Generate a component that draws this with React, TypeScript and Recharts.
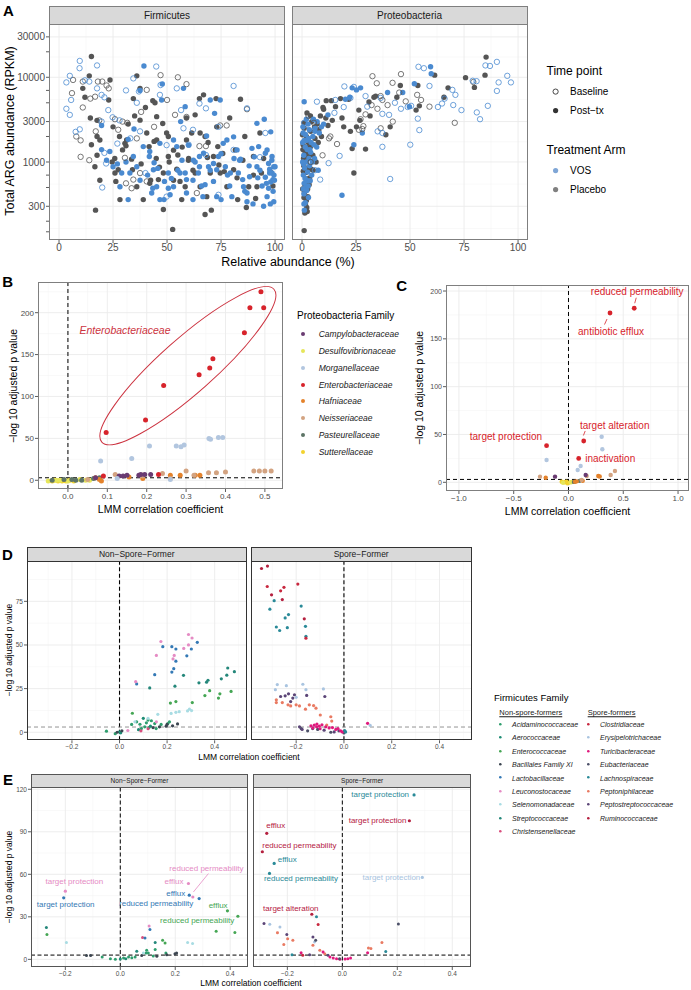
import React from "react"
import {
    ScatterChart,
    Scatter,
    XAxis,
    YAxis,
    CartesianGrid,
    ReferenceLine,
    ReferenceArea,
} from "recharts"

type Pt = [number, number]
type FPt = [string, number, number]
type Note = [string, number, number, string]

const FONT = '"Liberation Sans", Arial, Helvetica, sans-serif'

// ---------- A: total ARG abundance vs relative abundance ----------
const firmVosBase: Pt[] = [
    [9.6, 15600], [9.5, 12800], [5, 10400], [3.4, 8700], [17.6, 13800], [14, 8900], [5.6, 5400], [3.4, 4250],
    [5, 3600], [7.7, 2270], [9.6, 2430], [19.7, 3000], [22.8, 4100], [24.8, 3370], [19.7, 6200], [17.6, 7400],
    [21, 5800], [21, 1280], [21.8, 960], [20, 500], [34.4, 9700], [31, 7000], [36, 5000], [37, 6800], [45, 13400],
    [47, 8100], [46.7, 6200], [54.5, 7400], [56.5, 4100], [65, 4900], [68, 4300], [80.8, 7900], [87, 4300],
    [95.5, 2200], [37.5, 2300], [49.8, 1580], [57.6, 2500], [62, 2400], [68, 1210], [73.8, 2600], [80.8, 1390],
    [27, 1650], [40, 740], [49.8, 390], [73.8, 410], [93, 1140], [12, 9200], [28, 3100], [33, 1900], [60, 1600],
]
const firmPlaBase: Pt[] = [
    [6.5, 9300], [11, 8900], [18, 8900], [20, 8900], [22, 8000], [23, 7400], [16.7, 5900], [11, 4400], [10, 1800],
    [10, 1150], [14, 1050], [17, 2300], [18.6, 3100], [25.9, 3200], [27.4, 2400], [29.4, 3000], [31.6, 2900],
    [30.5, 1120], [36, 1900], [38, 3900], [40.6, 7100], [47, 10600], [55, 10000], [59, 8300], [50, 5400],
    [53.7, 3600], [59, 3400], [65, 1540], [68, 1540], [74.6, 2700], [77.6, 2700], [87, 4200], [37.5, 740],
    [34.4, 620], [40.6, 590], [33.6, 490], [63.8, 430], [31, 560], [6, 6500], [14.5, 5600], [44, 2600], [8, 2000],
]
const firmVosPost: Pt[] = [
    [39.3, 13600], [47.8, 8350], [47.5, 5400], [57.6, 7400], [58.4, 4500], [37.5, 7000], [34.7, 2450], [19.7, 2700],
    [19.7, 1400], [23.5, 1330], [32, 1850], [31, 1000], [32, 360], [37.5, 610], [42, 1330], [43.4, 490], [45.7, 840],
    [46.7, 1660], [48.8, 590], [50.6, 490], [51.4, 410], [53, 1820], [56.3, 3000], [56.9, 1050], [58.4, 740],
    [60, 1580], [62, 360], [64.5, 740], [66, 520], [67.6, 540], [68.3, 2030], [70, 5400], [72, 3750], [73, 390],
    [74.6, 5400], [76, 1660], [77, 880], [79, 520], [80.8, 1980], [82.4, 1390], [83, 740], [84, 1080], [86, 450],
    [87, 340], [89.3, 1450], [90.4, 1150], [91.6, 2860], [93, 800], [94, 520], [95, 3200], [95.5, 660], [96.3, 1390],
    [97, 960], [98, 580], [98.6, 740], [99.1, 450], [99.4, 880], [99.4, 340], [98, 2270], [97, 490], [65, 880],
    [71.5, 960], [29, 740], [59, 620], [99, 620], [98.5, 1050], [97.5, 820], [99.5, 700], [96, 560], [92, 650],
    [88, 900], [85, 620], [81, 1100], [78, 700], [75, 1250], [70, 800], [63, 1000], [55, 800], [52, 640], [44, 980],
    [41, 700], [36, 880], [27, 950],
    [39, 1520], [41.8, 1160], [43.7, 810], [45.2, 510], [48.6, 360], [50.6, 740], [54.5, 1520], [56, 740],
    [59, 430], [62, 610], [65, 1160], [66.6, 390], [69.2, 880], [71.5, 590], [73.8, 1160], [75, 360], [77.7, 1820],
    [80, 390], [83.6, 1050], [85.4, 510], [88.2, 670], [89.8, 320], [91.6, 880], [92.4, 1520], [95.5, 1270],
    [96.3, 390], [97.5, 740], [98.6, 1160], [99.7, 610], [100, 880], [97.8, 320], [94.7, 300], [87, 430],
    [79.3, 740], [73, 810], [66.9, 1270], [62.2, 1050], [53, 510], [46.7, 360], [42.9, 430], [34.4, 1160],
    [32.8, 740], [28.2, 510], [25, 880], [22, 1050],
]
const firmPlaPost: Pt[] = [
    [15, 17600], [14, 10400], [11, 7400], [12, 5800], [14.5, 3300], [17.6, 3100], [17.6, 2000], [15, 1600],
    [17.6, 1200], [18.9, 610], [16.9, 270], [23.6, 9300], [23, 5400], [25, 2600], [25.8, 1100], [24.6, 1000],
    [27.4, 810], [26.3, 590], [29.4, 1390], [32, 2800], [33.6, 1080], [36, 10400], [34.4, 5600], [37.5, 7400],
    [40, 4400], [40.6, 2200], [41.7, 1520], [43.4, 5300], [44.4, 5000], [44, 1750], [45, 1100], [46, 620],
    [48.3, 275], [46.5, 870], [48, 2850], [50.6, 2000], [52.6, 160], [53, 1380], [55, 1210], [54.5, 820], [56, 590],
    [58.4, 510], [59, 3300], [61.4, 2200], [63, 3600], [65, 5600], [66.9, 6200], [67.6, 2000], [68.7, 1130],
    [70, 740], [70.5, 270], [67.6, 240], [72.7, 5600], [73.5, 1520], [75.8, 1260], [76.5, 770], [79, 3300],
    [81.6, 1390], [82.4, 650], [84, 5500], [86, 2000], [86.7, 290], [90, 700], [91, 370], [93, 2200], [94.7, 1100],
    [97.8, 770], [99, 520], [38, 950], [42, 560], [31, 1550], [28, 2000], [35, 3500], [51, 1000], [57, 1500],
    [62, 800], [69, 1700], [74, 920], [60, 1100],
    [25.9, 740], [28.2, 360], [30.5, 1660], [34, 810], [36, 510], [39, 360], [42.4, 610], [45.2, 1820], [48.3, 740],
    [50.6, 1160], [53, 610], [56.8, 360], [59.9, 1050], [63, 740], [65.3, 510], [68.4, 390], [71.5, 1160],
    [74.6, 740], [77.7, 510], [80.8, 810], [82.7, 360], [85.1, 1050], [87.8, 510], [90, 1160], [91.6, 510],
    [93.7, 740], [73, 2600], [65.3, 2200], [59, 1820], [49.8, 2200], [45.2, 3430], [37.5, 3120], [31.3, 1820],
    [18.9, 1820], [16.6, 880],
]
const proVosBase: Pt[] = [
    [90.2, 15200], [87, 13600], [84.9, 13800], [53.9, 13300], [56.4, 12800], [95, 10400], [96.7, 8700], [90.2, 6900],
    [91, 8700], [80.8, 9000], [79, 9100], [69.6, 7100], [71, 6200], [59, 7900], [62.9, 4460], [64.8, 4900], [70, 4700],
    [73.8, 4100], [80.9, 3850], [82.4, 3200], [86, 4600], [54.3, 2380], [48.9, 4460], [50.5, 4600], [45.8, 4250],
    [37.2, 3700], [40.3, 3600], [35, 2300], [37.2, 2200], [37.2, 1510], [40.8, 630], [50.1, 1600], [30.2, 4500],
    [29.4, 6000], [36.4, 5700], [53.6, 3250], [24, 7700], [22.4, 5700], [19.6, 7800], [6.9, 5150], [17.4, 1180],
    [12.3, 970], [8.4, 620], [15.4, 5400], [19.3, 4450], [1, 2900], [2, 2400], [6, 800], [15, 3800], [43, 5000],
    [66, 5600],
]
const proPlaBase: Pt[] = [
    [32.6, 10300], [41.9, 8600], [45.8, 10900], [34.6, 8500], [79.3, 8800], [36.4, 6000], [34.9, 4250], [27.1, 3200],
    [28.4, 2650], [26.3, 2400], [36.4, 2500], [70.7, 2900], [59, 4500], [45, 6600], [53.3, 6200], [37.2, 5400],
    [29.4, 3650], [55.1, 5400], [39.6, 4700], [32.2, 4700], [27.9, 2450], [16.2, 1630], [13.1, 2000], [3, 3500],
    [5.5, 2900], [9.5, 1200], [12.5, 1900], [4, 1000], [48, 5200], [42, 3000],
]
const proVosPost: Pt[] = [
    [59.5, 13300], [59.8, 11000], [52, 8400], [27.1, 7500], [23.2, 7500], [25.2, 7100], [20.1, 5500], [27.9, 2200],
    [24, 1600], [18.5, 405], [49.7, 4500], [46.6, 6600], [39.6, 6600], [22.1, 5800], [0.5, 2200], [1, 1800],
    [1.5, 1500], [0.8, 1200], [2, 1000], [1.2, 850], [0.6, 700], [2.5, 600], [1.8, 500], [0.9, 420], [3, 380],
    [1.5, 330], [4, 1300], [3.5, 900], [5, 2000], [6, 2500], [4.5, 700], [0.4, 2600], [2.8, 2800], [7, 3000],
    [1, 560], [2.2, 460], [3.2, 1100], [0.7, 950], [5.5, 1600], [8, 2200], [2, 3200], [9, 2600], [1, 5150],
    [5.3, 3200], [6, 2300], [2.2, 1800], [3.6, 1400], [0.3, 1000], [1.4, 640], [0.6, 480], [2.6, 760], [4.8, 1000],
    [3, 1900], [12, 3600], [10, 2800],
    [0.3, 1700], [1.6, 2100], [2.4, 1400], [3.8, 600], [0.9, 320], [4.2, 1700], [5.8, 1100], [6.8, 1500],
    [1.1, 270], [2.9, 520], [7.5, 800], [3.4, 2400],
]
const proPlaPost: Pt[] = [
    [85.2, 17300], [84.7, 10600], [75.7, 9900], [79.8, 7600], [61.4, 10600], [53.6, 8000], [45.5, 8000], [67.6, 7500],
    [65.7, 5800], [52.8, 4100], [54.3, 4600], [43.9, 5800], [40.8, 2600], [38.8, 2100], [33.3, 5800], [34.1, 6000],
    [31, 5100], [26.3, 4100], [22.4, 2300], [29.4, 1420], [23.2, 1440], [24, 740], [18.5, 3300], [19.3, 2600],
    [21.6, 5500], [25.2, 2600], [31.5, 3500], [26.8, 3100], [11.2, 5300], [9.7, 4400], [13.6, 5300], [17.8, 5600],
    [1, 2500], [2, 2000], [0.5, 1600], [1.5, 1300], [3, 1700], [2.5, 1100], [0.8, 900], [1.8, 750], [3.5, 650],
    [1.2, 550], [2.6, 480], [0.9, 380], [1.6, 320], [2.2, 290], [2.4, 260], [4, 2300], [5, 1200], [3.8, 1500],
    [6, 1900], [7, 2800], [4.5, 3000], [8.5, 3500], [10, 4200], [11, 3300], [6.5, 1000], [2.8, 850], [1.1, 430],
    [12, 2700], [14, 3100], [1, 155], [0.4, 1400], [3.3, 540], [1.7, 1050], [0.6, 780], [2, 350], [4.2, 820],
    [7.5, 1700], [5.8, 2600], [9, 2000], [15.5, 4500],
    [0.2, 2100], [1.4, 1800], [2.1, 1500], [3.1, 1200], [0.7, 1100], [1.9, 630], [0.3, 480], [2.7, 390],
    [1.3, 250], [4.6, 1600], [5.2, 800], [7.8, 2400], [0.9, 2900], [3.9, 3500], [2.3, 3800],
]
const aXTicks = [0, 25, 50, 75, 100]
const aXMinor = [12.5, 37.5, 62.5, 87.5]
const aYLabels = [300, 1000, 3000, 10000, 30000]
const aYTickMarks = [150, 200, 300, 500, 700, 1000, 2000, 3000, 5000, 7000, 10000, 20000, 30000]
const aYMinor = [164, 548, 1732, 5477, 17320]

// ---------- B / C: Proteobacteria ----------
const proteoFamilies = [
    "Campylobacteraceae", "Desulfovibrionaceae", "Morganellaceae", "Enterobacteriaceae",
    "Hafniaceae", "Neisseriaceae", "Pasteurellaceae", "Sutterellaceae",
]
const bPoints: FPt[] = [
    ["Sutterellaceae", -0.04, -1], ["Sutterellaceae", -0.025, -1], ["Sutterellaceae", -0.015, -1],
    ["Sutterellaceae", -0.005, -1], ["Sutterellaceae", 0.005, 0], ["Sutterellaceae", 0.015, -1], ["Sutterellaceae", -0.035, 0],
    ["Desulfovibrionaceae", -0.05, -1], ["Desulfovibrionaceae", -0.03, 0], ["Desulfovibrionaceae", -0.02, 0],
    ["Desulfovibrionaceae", 0, -1], ["Desulfovibrionaceae", 0.045, 0], ["Desulfovibrionaceae", 0.055, 0], ["Desulfovibrionaceae", 0.03, 1],
    ["Pasteurellaceae", -0.04, 0], ["Pasteurellaceae", -0.01, 1], ["Pasteurellaceae", 0.01, 1], ["Pasteurellaceae", 0.02, 0],
    ["Pasteurellaceae", 0.035, 0], ["Pasteurellaceae", 0.065, 2], ["Pasteurellaceae", 0.08, 3],
    ["Hafniaceae", 0.07, 3], ["Hafniaceae", 0.08, 1], ["Hafniaceae", 0.085, -1], ["Hafniaceae", 0.155, 4],
    ["Hafniaceae", 0.19, 6], ["Hafniaceae", 0.19, 2], ["Hafniaceae", 0.26, 6], ["Hafniaceae", 0.285, 6],
    ["Hafniaceae", 0.323, 6], ["Hafniaceae", 0.335, 6],
    ["Neisseriaceae", 0.12, 7], ["Neisseriaceae", 0.24, 8], ["Neisseriaceae", 0.3, 11], ["Neisseriaceae", 0.32, 6],
    ["Neisseriaceae", 0.357, 9], ["Neisseriaceae", 0.377, 9], ["Neisseriaceae", 0.4, 10], ["Neisseriaceae", 0.472, 11],
    ["Neisseriaceae", 0.486, 11], ["Neisseriaceae", 0.5, 11], ["Neisseriaceae", 0.516, 11], ["Neisseriaceae", 0.26, 2],
    ["Neisseriaceae", 0.19, 5], ["Neisseriaceae", 0.05, 1],
    ["Campylobacteraceae", 0.13, 5], ["Campylobacteraceae", 0.14, 5], ["Campylobacteraceae", 0.15, 6],
    ["Campylobacteraceae", 0.18, 6], ["Campylobacteraceae", 0.195, 7], ["Campylobacteraceae", 0.21, 7],
    ["Campylobacteraceae", 0.185, 7], ["Campylobacteraceae", 0.07, 3],
    ["Morganellaceae", 0.083, 23], ["Morganellaceae", 0.162, 26], ["Morganellaceae", 0.207, 41], ["Morganellaceae", 0.275, 41],
    ["Morganellaceae", 0.287, 40], ["Morganellaceae", 0.295, 42], ["Morganellaceae", 0.358, 50], ["Morganellaceae", 0.362, 49],
    ["Morganellaceae", 0.382, 51], ["Morganellaceae", 0.393, 51], ["Morganellaceae", 0.125, 2], ["Morganellaceae", 0.26, 1],
    ["Enterobacteriaceae", 0.097, 57], ["Enterobacteriaceae", 0.197, 72], ["Enterobacteriaceae", 0.243, 113],
    ["Enterobacteriaceae", 0.333, 126], ["Enterobacteriaceae", 0.36, 134], ["Enterobacteriaceae", 0.368, 145],
    ["Enterobacteriaceae", 0.448, 176], ["Enterobacteriaceae", 0.462, 206], ["Enterobacteriaceae", 0.497, 206],
    ["Enterobacteriaceae", 0.49, 225], ["Enterobacteriaceae", 0.09, 5], ["Enterobacteriaceae", 0.23, 7],
]
const cPoints: FPt[] = [
    ["Sutterellaceae", -0.062, 0.6], ["Sutterellaceae", -0.035, 0], ["Sutterellaceae", -0.02, 0.6],
    ["Sutterellaceae", 0, -0.5], ["Sutterellaceae", 0.03, 0.3], ["Sutterellaceae", -0.01, -1],
    ["Desulfovibrionaceae", -0.05, -0.5], ["Desulfovibrionaceae", 0.02, 0],
    ["Pasteurellaceae", 0.1, 1.5], ["Pasteurellaceae", 0.05, 0.4],
    ["Hafniaceae", -0.208, 4.8], ["Hafniaceae", 0.272, 6.6], ["Hafniaceae", 0.285, 6], ["Hafniaceae", 0.075, 1],
    ["Hafniaceae", 0.06, 0.5], ["Hafniaceae", 0.13, 1.5],
    ["Neisseriaceae", -0.26, 5.9], ["Neisseriaceae", 0.424, 11.8], ["Neisseriaceae", 0.385, 7.6],
    ["Neisseriaceae", 0.166, 6.6], ["Neisseriaceae", 0.12, 2.5],
    ["Campylobacteraceae", -0.123, 5.9], ["Campylobacteraceae", 0.157, 7.6],
    ["Morganellaceae", 0.303, 47.7], ["Morganellaceae", 0.309, 34.5], ["Morganellaceae", 0.111, 17],
    ["Morganellaceae", 0.084, 12.9], ["Morganellaceae", -0.2, 23.3],
]
const cNotes: Note[] = [
    ["Enterobacteriaceae", 0.6, 182, "reduced permeability"],
    ["Enterobacteriaceae", 0.379, 177, "antibiotic efflux"],
    ["Enterobacteriaceae", 0.139, 43.2, "target alteration"],
    ["Enterobacteriaceae", 0.093, 25, "inactivation"],
    ["Enterobacteriaceae", -0.2, 38.3, "target protection"],
]
const bXTicks = [0, 0.1, 0.2, 0.3, 0.4, 0.5]
const bXMinor = [-0.05, 0.05, 0.15, 0.25, 0.35, 0.45]
const bYTicks = [0, 50, 100, 150, 200]
const bYMinor = [25, 75, 125, 175, 225]
const cXTicks = [-1, -0.5, 0, 0.5, 1]
const cXMinor = [-0.75, -0.25, 0.25, 0.75]
const cYMinor = [25, 75, 125, 175]

// ---------- D / E: Firmicutes ----------
const nonSporeFamilies = [
    "Acidaminococcaceae", "Aerococcaceae", "Enterococcaceae", "Bacillales Family XI", "Lactobacillaceae",
    "Leuconostocaceae", "Selenomonadaceae", "Streptococcaceae", "Christensenellaceae",
]
const sporeFamilies = [
    "Clostridiaceae", "Erysipelotrichaceae", "Turicibacteraceae", "Eubacteriaceae", "Lachnospiraceae",
    "Peptoniphilaceae", "Peptostreptococcaceae", "Ruminococcaceae",
]
const dNonSpore: FPt[] = [
    ["Acidaminococcaceae", -0.055, 0.6], ["Acidaminococcaceae", -0.018, -0.8], ["Acidaminococcaceae", 0.051, 4.5],
    ["Acidaminococcaceae", 0.072, 6], ["Acidaminococcaceae", 0.086, 4.6], ["Acidaminococcaceae", 0.106, 3.1],
    ["Acidaminococcaceae", 0.12, 7], ["Acidaminococcaceae", 0.113, 5.4], ["Acidaminococcaceae", 0.134, 6.6],
    ["Acidaminococcaceae", 0.148, 5], ["Acidaminococcaceae", 0.092, 2.1], ["Acidaminococcaceae", 0.124, 2.7],
    ["Acidaminococcaceae", 0.154, 2.1], ["Acidaminococcaceae", 0.175, 4.5], ["Acidaminococcaceae", 0.203, 5],
    ["Acidaminococcaceae", 0.21, 6],
    ["Aerococcaceae", 0, 0.2], ["Aerococcaceae", 0.005, -0.3], ["Aerococcaceae", 0.1, 8], ["Aerococcaceae", 0.13, 3.5],
    ["Aerococcaceae", 0.08, 1.5],
    ["Christensenellaceae", 0.12, 2], ["Christensenellaceae", 0.09, 0.8],
    ["Bacillales Family XI", 0.168, 3.1], ["Bacillales Family XI", 0.196, 3.5], ["Bacillales Family XI", 0.244, 4.8],
    ["Bacillales Family XI", 0.223, 3.7], ["Bacillales Family XI", 0.141, 2.7], ["Bacillales Family XI", -0.01, 0],
    ["Bacillales Family XI", 0.01, 0.8], ["Bacillales Family XI", 0.2, 4.5],
    ["Selenomonadaceae", 0.217, 10.8], ["Selenomonadaceae", 0.237, 11.4], ["Selenomonadaceae", 0.251, 11.8],
    ["Selenomonadaceae", 0.286, 12.2], ["Selenomonadaceae", 0.294, 13.2], ["Selenomonadaceae", 0.303, 12.4],
    ["Selenomonadaceae", 0.161, 10.3], ["Selenomonadaceae", 0.065, 6], ["Selenomonadaceae", 0.12, 8],
    ["Enterococcaceae", 0.214, 16.7], ["Enterococcaceae", 0.237, 17.6], ["Enterococcaceae", 0.306, 17],
    ["Enterococcaceae", 0.359, 21], ["Enterococcaceae", 0.379, 23.8], ["Enterococcaceae", 0.416, 19.6],
    ["Enterococcaceae", 0.422, 22], ["Enterococcaceae", 0.469, 23.4], ["Enterococcaceae", 0.054, 10.9],
    ["Streptococcaceae", 0.127, 25.4], ["Streptococcaceae", 0.233, 26.4], ["Streptococcaceae", 0.269, 32.6],
    ["Streptococcaceae", 0.334, 28.3], ["Streptococcaceae", 0.366, 28.7], ["Streptococcaceae", 0.372, 29.8],
    ["Streptococcaceae", 0.428, 30.6], ["Streptococcaceae", 0.455, 36.8], ["Streptococcaceae", 0.451, 32.7],
    ["Streptococcaceae", 0.483, 34.7],
    ["Lactobacillaceae", 0.072, 27.7], ["Lactobacillaceae", 0.182, 49], ["Lactobacillaceae", 0.148, 33],
    ["Lactobacillaceae", 0.22, 49], ["Lactobacillaceae", 0.237, 47.7], ["Lactobacillaceae", 0.228, 36.4],
    ["Lactobacillaceae", 0.22, 34.5], ["Lactobacillaceae", 0.237, 40.7], ["Lactobacillaceae", 0.283, 43.8],
    ["Lactobacillaceae", 0.302, 47.7], ["Lactobacillaceae", 0.327, 51.5],
    ["Leuconostocaceae", 0.068, 29], ["Leuconostocaceae", 0.174, 52], ["Leuconostocaceae", 0.155, 44],
    ["Leuconostocaceae", 0.29, 56], ["Leuconostocaceae", 0.305, 54], ["Leuconostocaceae", 0.27, 48],
    ["Leuconostocaceae", 0.29, 50], ["Leuconostocaceae", 0.155, 6], ["Leuconostocaceae", 0.035, 1],
    ["Leuconostocaceae", 0.23, 44], ["Leuconostocaceae", 0.225, 42],
]
const dSpore: FPt[] = [
    ["Eubacteriaceae", -0.179, 2.1], ["Eubacteriaceae", -0.152, 0.8], ["Eubacteriaceae", -0.11, 1.6],
    ["Eubacteriaceae", -0.055, 0], ["Eubacteriaceae", 0, -0.4],
    ["Peptostreptococcaceae", -0.265, 20.5], ["Peptostreptococcaceae", -0.246, 20.9], ["Peptostreptococcaceae", -0.232, 22],
    ["Peptostreptococcaceae", -0.223, 17.6], ["Peptostreptococcaceae", -0.207, 21.5], ["Peptostreptococcaceae", -0.214, 19.6],
    ["Peptostreptococcaceae", -0.156, 21.1], ["Peptostreptococcaceae", -0.08, 20.5], ["Peptostreptococcaceae", -0.186, 3.1],
    ["Peptostreptococcaceae", -0.175, 1.6], ["Peptostreptococcaceae", -0.131, 2.1], ["Peptostreptococcaceae", -0.083, 1.2],
    ["Peptostreptococcaceae", -0.041, 0.2], ["Peptostreptococcaceae", -0.021, 0.8],
    ["Erysipelotrichaceae", -0.279, 27.3], ["Erysipelotrichaceae", -0.287, 24.4], ["Erysipelotrichaceae", -0.241, 26.7],
    ["Erysipelotrichaceae", -0.172, 27.5], ["Erysipelotrichaceae", -0.159, 24.4], ["Erysipelotrichaceae", -0.086, 24.8],
    ["Erysipelotrichaceae", 0.11, 3.9], ["Erysipelotrichaceae", -0.2, 20], ["Erysipelotrichaceae", -0.13, 3],
    ["Peptoniphilaceae", -0.283, 18.6], ["Peptoniphilaceae", -0.283, 17], ["Peptoniphilaceae", -0.258, 17],
    ["Peptoniphilaceae", -0.234, 15.7], ["Peptoniphilaceae", -0.223, 15.1], ["Peptoniphilaceae", -0.2, 15.7],
    ["Peptoniphilaceae", -0.186, 15.1], ["Peptoniphilaceae", -0.161, 13.2], ["Peptoniphilaceae", -0.145, 15.7],
    ["Peptoniphilaceae", -0.127, 15.3], ["Peptoniphilaceae", -0.117, 13.8], ["Peptoniphilaceae", -0.099, 9.9],
    ["Peptoniphilaceae", -0.055, 8.9], ["Peptoniphilaceae", -0.051, 6.4], ["Peptoniphilaceae", -0.072, 4.1],
    ["Turicibacteraceae", -0.138, 3.7], ["Turicibacteraceae", -0.124, 4.1], ["Turicibacteraceae", -0.113, 4.7],
    ["Turicibacteraceae", -0.103, 3.5], ["Turicibacteraceae", -0.092, 4.3], ["Turicibacteraceae", -0.076, 3.1],
    ["Turicibacteraceae", -0.062, 2.5], ["Turicibacteraceae", -0.048, 2.7], ["Turicibacteraceae", -0.034, 1.6],
    ["Turicibacteraceae", -0.025, 2.1], ["Turicibacteraceae", -0.014, 0.8], ["Turicibacteraceae", -0.114, 3.1],
    ["Turicibacteraceae", -0.007, 0.2], ["Turicibacteraceae", 0.099, 5.1], ["Turicibacteraceae", -0.13, 2.5],
    ["Turicibacteraceae", -0.1, 2],
    ["Lachnospiraceae", -0.31, 70.5], ["Lachnospiraceae", -0.292, 75.4], ["Lachnospiraceae", -0.283, 60.3],
    ["Lachnospiraceae", -0.269, 58.3], ["Lachnospiraceae", -0.246, 65.5], ["Lachnospiraceae", -0.232, 67.4],
    ["Lachnospiraceae", -0.237, 59.9], ["Lachnospiraceae", -0.179, 72.3], ["Lachnospiraceae", -0.161, 60.7],
    ["Lachnospiraceae", -0.159, 55], ["Lachnospiraceae", 0.007, 0.2], ["Lachnospiraceae", 0.003, 1],
    ["Ruminococcaceae", -0.345, 93.8], ["Ruminococcaceae", -0.32, 95.2], ["Ruminococcaceae", -0.303, 78.7],
    ["Ruminococcaceae", -0.258, 76], ["Ruminococcaceae", -0.166, 65],
    ["Clostridiaceae", -0.321, 83.5], ["Clostridiaceae", -0.265, 81], ["Clostridiaceae", -0.251, 83],
    ["Clostridiaceae", -0.193, 84.9], ["Clostridiaceae", -0.159, 53.9],
]
const eNonSpore: FPt[] = [
    ["Acidaminococcaceae", -0.066, 1.7], ["Acidaminococcaceae", -0.036, 0.5], ["Acidaminococcaceae", -0.018, 0],
    ["Acidaminococcaceae", 0.012, 0.9], ["Acidaminococcaceae", 0.03, 1.7], ["Acidaminococcaceae", 0.042, 1.2],
    ["Acidaminococcaceae", 0.054, 1.7], ["Acidaminococcaceae", 0.102, 4.5], ["Acidaminococcaceae", 0.12, 2.4],
    ["Acidaminococcaceae", 0.166, 4.5], ["Acidaminococcaceae", 0.127, 6.9], ["Acidaminococcaceae", 0.096, 6.4],
    ["Acidaminococcaceae", 0.094, 4.5],
    ["Aerococcaceae", 0, 0.2], ["Aerococcaceae", 0.02, 0.5],
    ["Bacillales Family XI", -0.108, 2.8], ["Bacillales Family XI", -0.123, 2.8], ["Bacillales Family XI", 0.205, 4.5],
    ["Bacillales Family XI", 0.199, 4], ["Bacillales Family XI", 0.169, 3.3], ["Bacillales Family XI", 0.133, 2.1],
    ["Bacillales Family XI", 0.078, 2.8],
    ["Selenomonadaceae", -0.196, 11.8], ["Selenomonadaceae", 0.245, 11.8], ["Selenomonadaceae", 0.263, 11.1],
    ["Selenomonadaceae", 0.084, 4.5],
    ["Streptococcaceae", -0.269, 22.4], ["Streptococcaceae", 0.127, 11.8], ["Streptococcaceae", 0.06, 5.7],
    ["Enterococcaceae", 0.349, 19.8], ["Enterococcaceae", 0.417, 18.9], ["Enterococcaceae", -0.267, 17.5],
    ["Enterococcaceae", 0.154, 13.5], ["Enterococcaceae", 0.163, 11.6],
    ["Christensenellaceae", 0.081, 15.4],
    ["Lactobacillaceae", 0.108, 21], ["Lactobacillaceae", 0.09, 15],
    ["Leuconostocaceae", 0.105, 23.6],
]
const eNonSporeNotes: Note[] = [
    ["Leuconostocaceae", -0.2, 48.1, "target protection"],
    ["Lactobacillaceae", -0.206, 43.4, "target protection"],
    ["Leuconostocaceae", 0.248, 53.5, "efflux"],
    ["Leuconostocaceae", 0.264, 44, "reduced permeability"],
    ["Lactobacillaceae", 0.251, 45.3, "efflux"],
    ["Lactobacillaceae", 0.287, 42.9, "reduced permeability"],
    ["Enterococcaceae", 0.39, 34.2, "efflux"],
    ["Enterococcaceae", 0.428, 30.4, "reduced permeability"],
]
const eSpore: FPt[] = [
    ["Lachnospiraceae", -0.094, 30], ["Lachnospiraceae", -0.183, 3.3], ["Lachnospiraceae", 0.158, 5.6],
    ["Clostridiaceae", -0.088, 24.6], ["Clostridiaceae", -0.144, 2.8],
    ["Peptostreptococcaceae", -0.285, 25.3], ["Peptostreptococcaceae", -0.202, 17.5], ["Peptostreptococcaceae", -0.119, 3.3],
    ["Peptostreptococcaceae", -0.107, 15.8], ["Peptostreptococcaceae", -0.052, 2.8],
    ["Erysipelotrichaceae", -0.264, 24.8], ["Erysipelotrichaceae", -0.227, 22.9], ["Erysipelotrichaceae", -0.101, 12.3],
    ["Peptoniphilaceae", -0.236, 18.7], ["Peptoniphilaceae", -0.199, 14.6], ["Peptoniphilaceae", -0.213, 10.4],
    ["Peptoniphilaceae", -0.18, 13.5], ["Peptoniphilaceae", -0.107, 9.9], ["Peptoniphilaceae", -0.082, 6.4],
    ["Peptoniphilaceae", -0.064, 4], ["Peptoniphilaceae", 0.144, 11.8], ["Peptoniphilaceae", 0.095, 8],
    ["Peptoniphilaceae", 0.104, 7.6],
    ["Turicibacteraceae", -0.15, 4.7], ["Turicibacteraceae", -0.07, 5.2], ["Turicibacteraceae", -0.045, 1.7],
    ["Turicibacteraceae", -0.033, 0.9], ["Turicibacteraceae", -0.021, 0.5], ["Turicibacteraceae", -0.009, 0],
    ["Turicibacteraceae", 0.01, 0.2], ["Turicibacteraceae", 0.02, 0.5], ["Turicibacteraceae", 0.03, 1],
    ["Turicibacteraceae", 0.092, 4.7],
    ["Eubacteriaceae", -0.097, 13.5], ["Eubacteriaceae", 0.204, 25], ["Eubacteriaceae", -0.01, 0.4],
]
const eSporeNotes: Note[] = [
    ["Ruminococcaceae", -0.275, 88.9, "efflux"],
    ["Ruminococcaceae", -0.291, 75.9, "reduced permeability"],
    ["Lachnospiraceae", -0.248, 67.7, "efflux"],
    ["Lachnospiraceae", -0.265, 60.6, "reduced permeability"],
    ["Ruminococcaceae", -0.111, 31.8, "target alteration"],
    ["Lachnospiraceae", 0.261, 116, "target protection"],
    ["Ruminococcaceae", 0.244, 97.8, "target protection"],
    ["Erysipelotrichaceae", 0.291, 57.8, "target protection"],
]
const dXTicks = [-0.2, 0, 0.2, 0.4]
const dXMinor = [-0.3, -0.1, 0.1, 0.3, 0.5]
const dYTicks = [0, 25, 50, 75]
const dYMinor = [12.5, 37.5, 62.5, 87.5]
const eXMinor = [-0.3, -0.1, 0.1, 0.3]
const eYTicks = [0, 30, 60, 90, 120]
const eYMinor = [15, 45, 75, 105]

// colours
const VOS = "#4A8AD0"
const PLACEBO = "#555555"
const PROTEO_COLORS: Record<string, string> = {
    Campylobacteraceae: "#6A3B72",
    Desulfovibrionaceae: "#E6E65A",
    Morganellaceae: "#B2C6DF",
    Enterobacteriaceae: "#D7232B",
    Hafniaceae: "#E4822B",
    Neisseriaceae: "#D3A381",
    Pasteurellaceae: "#5D7466",
    Sutterellaceae: "#F2D22E",
}
const FIRM_COLORS: Record<string, string> = {
    Acidaminococcaceae: "#2F9E6E",
    Aerococcaceae: "#1E8C74",
    Enterococcaceae: "#45A654",
    "Bacillales Family XI": "#3B4550",
    Lactobacillaceae: "#3479B5",
    Leuconostocaceae: "#E58BC4",
    Selenomonadaceae: "#A8DCE3",
    Streptococcaceae: "#24877A",
    Christensenellaceae: "#D94F7E",
    Clostridiaceae: "#C8283F",
    Erysipelotrichaceae: "#A9C4E0",
    Turicibacteraceae: "#E0197D",
    Eubacteriaceae: "#4C5068",
    Lachnospiraceae: "#2A8A98",
    Peptoniphilaceae: "#E97A62",
    Peptostreptococcaceae: "#5B4577",
    Ruminococcaceae: "#B5203F",
}

const minus = (v: number) => (v < 0 ? "\u2212" : "") + Math.abs(v).toFixed(1)

type NotePos = [number, number, "start" | "middle" | "end", number[]?]

function Txt(props: any) {
    const { x, y, size, color = "#000", rotate, italic, bold, anchor = "middle", underline, children } = props
    const tx = anchor === "middle" ? "-50%" : anchor === "end" ? "-100%" : "0%"
    return (
        <div
            style={{
                position: "absolute",
                left: x,
                top: y,
                transform: `translate(${tx}, -50%)${rotate ? ` rotate(${rotate}deg)` : ""}`,
                whiteSpace: "nowrap",
                fontSize: size,
                lineHeight: 1,
                color,
                fontStyle: italic ? "italic" : "normal",
                fontWeight: bold ? "bold" : "normal",
                textDecoration: underline ? "underline" : "none",
            }}
        >
            {children}
        </div>
    )
}

function Dot({ x, y, r, color, hollow }: any) {
    return (
        <svg style={{ position: "absolute", left: x - r - 1, top: y - r - 1 }} width={2 * r + 2} height={2 * r + 2}>
            <circle cx={r + 1} cy={r + 1} r={r} fill={hollow ? "none" : color} stroke={hollow ? color : "none"} strokeWidth={0.9} />
        </svg>
    )
}

const dot = (color: string, r: number) => (p: any) => <circle cx={p.cx} cy={p.cy} r={r} fill={color} />
const ring = (color: string, r: number) => (p: any) =>
    <circle cx={p.cx} cy={p.cy} r={r} fill="none" stroke={color} strokeWidth={0.8} />

function groupScatters(points: FPt[], colors: Record<string, string>, r: number, key: string) {
    const fams = Array.from(new Set(points.map((p) => p[0])))
    return fams.map((f) => (
        <Scatter
            key={key + f}
            data={points.filter((p) => p[0] === f).map(([, x, y]) => ({ x, y }))}
            shape={dot(colors[f], r)}
            isAnimationActive={false}
        />
    ))
}

function noteScatters(notes: Note[], pos: NotePos[], colors: Record<string, string>, r: number, size: number, key: string) {
    return notes.map((n, i) => {
        const [dx, dy, anchor, line] = pos[i]
        const c = colors[n[0]]
        return (
            <Scatter
                key={key + i}
                data={[{ x: n[1], y: n[2] }]}
                isAnimationActive={false}
                shape={(p: any) => (
                    <g>
                        <circle cx={p.cx} cy={p.cy} r={r} fill={c} />
                        {line && (
                            <line x1={p.cx + line[0]} y1={p.cy + line[1]} x2={p.cx + line[2]} y2={p.cy + line[3]} stroke={c} strokeWidth={0.8} />
                        )}
                        <text x={p.cx + dx} y={p.cy + dy} textAnchor={anchor} dominantBaseline="central" fontSize={size} fill={c} fontFamily={FONT}>
                            {n[3]}
                        </text>
                    </g>
                )}
            />
        )
    })
}

type PlotProps = {
    left: number; top: number; w: number; h: number
    xDomain: [number, number]; yDomain: [number, number]
    xTicks: number[]; yTicks: number[]; xMinor: number[]; yMinor: number[]
    yAxisTicks?: number[]; yLog?: boolean; yW: number; hideY?: boolean
    xFont: number; yFont: number
    xFmt: (v: number) => string; yFmt: (v: number) => string
    border: string; borderW: number
    strip?: string; stripH?: number; stripFont?: number
    children?: React.ReactNode
}

function Plot(p: PlotProps) {
    const xH = 18
    const yW = p.hideY ? 0 : p.yW
    return (
        <>
            {p.strip && (
                <div
                    style={{
                        position: "absolute", left: p.left, top: p.top - (p.stripH ?? 14), width: p.w, height: p.stripH,
                        boxSizing: "border-box", background: "#D9D9D9", border: `${p.borderW}px solid ${p.border}`,
                        borderBottom: "none", display: "flex", alignItems: "center", justifyContent: "center",
                        fontSize: p.stripFont, color: "#1A1A1A",
                    }}
                >
                    {p.strip}
                </div>
            )}
            <div style={{ position: "absolute", left: p.left - yW, top: p.top }}>
                <ScatterChart width={p.w + yW} height={p.h + xH} margin={{ top: 0, right: 0, bottom: 0, left: 0 }}>
                    <CartesianGrid horizontalValues={p.yMinor} verticalValues={p.xMinor} stroke="#F2F2F2" strokeWidth={0.5} />
                    <CartesianGrid horizontalValues={p.yTicks} verticalValues={p.xTicks} stroke="#EBEBEB" strokeWidth={0.9} />
                    <XAxis
                        type="number" dataKey="x" domain={p.xDomain} ticks={p.xTicks} interval={0} height={xH}
                        axisLine={false} tickLine={{ stroke: "#333", strokeWidth: 0.8 }} tickSize={3} tickMargin={1}
                        tick={{ fontSize: p.xFont, fill: "#4D4D4D" }} tickFormatter={p.xFmt}
                    />
                    <YAxis
                        type="number" dataKey="y" domain={p.yDomain} ticks={p.yAxisTicks ?? p.yTicks} interval={0}
                        scale={p.yLog ? "log" : "auto"} width={yW} hide={p.hideY}
                        axisLine={false} tickLine={{ stroke: "#333", strokeWidth: 0.8 }} tickSize={3} tickMargin={1}
                        tick={{ fontSize: p.yFont, fill: "#4D4D4D" }} tickFormatter={p.yFmt}
                    />
                    {p.children}
                </ScatterChart>
            </div>
            <div
                style={{
                    position: "absolute", left: p.left, top: p.top, width: p.w, height: p.h, boxSizing: "border-box",
                    border: `${p.borderW}px solid ${p.border}`, pointerEvents: "none",
                }}
            />
        </>
    )
}

function PanelA() {
    const common = {
        top: 24, w: 236, h: 216, xDomain: [-4.64, 104.6] as [number, number], yDomain: [120, 42560] as [number, number],
        xTicks: aXTicks, yTicks: aYLabels, xMinor: aXMinor, yMinor: aYMinor, yAxisTicks: aYTickMarks, yLog: true,
        yW: 45, xFont: 10, yFont: 10, xFmt: (v: number) => String(v),
        yFmt: (v: number) => (aYLabels.includes(v) ? String(v) : ""), border: "#7F7F7F", borderW: 1, stripH: 18, stripFont: 10,
    }
    const r = 2.7
    const series = (vp: Pt[], pp: Pt[], vb: Pt[], pb: Pt[], k: string) => [
        <Scatter key={k + "pp"} data={pp.map(([x, y]) => ({ x, y }))} shape={dot(PLACEBO, r)} isAnimationActive={false} />,
        <Scatter key={k + "vp"} data={vp.map(([x, y]) => ({ x, y }))} shape={dot(VOS, r)} isAnimationActive={false} />,
        <Scatter key={k + "pb"} data={pb.map(([x, y]) => ({ x, y }))} shape={ring(PLACEBO, r)} isAnimationActive={false} />,
        <Scatter key={k + "vb"} data={vb.map(([x, y]) => ({ x, y }))} shape={ring(VOS, r)} isAnimationActive={false} />,
    ]
    return (
        <>
            <Txt x={8.5} y={10} size={15} bold>A</Txt>
            <Plot {...common} left={49} strip="Firmicutes">
                {series(firmVosPost, firmPlaPost, firmVosBase, firmPlaBase, "f")}
            </Plot>
            <Plot {...common} left={291.5} hideY strip="Proteobacteria">
                {series(proVosPost, proPlaPost, proVosBase, proPlaBase, "p")}
            </Plot>
            <Txt x={9.5} y={131} size={12.5} rotate={-90}>Total ARG abundance (RPKM)</Txt>
            <Txt x={288} y={262} size={12.5}>Relative abundance (%)</Txt>
            <Txt x={546.5} y={71} size={12} anchor="start">Time point</Txt>
            <Dot x={555.5} y={91.7} r={2.6} color="#333" hollow />
            <Txt x={570} y={91.7} size={10} anchor="start">Baseline</Txt>
            <Dot x={555.5} y={110.7} r={2.6} color="#333" />
            <Txt x={570} y={110.7} size={10} anchor="start">Post{"\u2212"}tx</Txt>
            <Txt x={546.5} y={150} size={12} anchor="start">Treatment Arm</Txt>
            <Dot x={555.5} y={170.7} r={2.6} color="#7FA6D6" />
            <Txt x={570} y={170.7} size={10} anchor="start">VOS</Txt>
            <Dot x={555.5} y={190} r={2.6} color="#808080" />
            <Txt x={570} y={190} size={10} anchor="start">Placebo</Txt>
        </>
    )
}

function PanelB() {
    const ellipse = (p: any) => {
        const cx = p.x + p.width / 2
        const cy = p.y + p.height / 2
        const ang = (-Math.atan2(Math.abs(p.height), p.width) * 180) / Math.PI
        const rx = Math.hypot(p.width, p.height) / 2
        return <ellipse cx={cx} cy={cy} rx={rx} ry={27} transform={`rotate(${ang} ${cx} ${cy})`} fill="none" stroke="#CC3340" strokeWidth={1} />
    }
    return (
        <>
            <Txt x={7.7} y={281} size={15} bold>B</Txt>
            <Plot
                left={38} top={282} w={245} h={207} xDomain={[-0.076, 0.546]} yDomain={[-10.4, 236.6]}
                xTicks={bXTicks} yTicks={bYTicks} xMinor={bXMinor} yMinor={bYMinor} yW={30} xFont={8} yFont={8}
                xFmt={(v) => v.toFixed(1)} yFmt={(v) => String(v)} border="#7F7F7F" borderW={1}
            >
                <ReferenceLine x={0} stroke="#000" strokeDasharray="4 3" strokeWidth={1} />
                <ReferenceLine y={3} stroke="#000" strokeDasharray="4 3" strokeWidth={1} />
                {groupScatters(bPoints, PROTEO_COLORS, 2.5, "b")}
                <ReferenceArea x1={0.086} x2={0.523} y1={45.6} y2={228} ifOverflow="visible" shape={ellipse} />
            </Plot>
            <Txt x={125} y={330} size={10.5} italic color="#CC3340">Enterobacteriaceae</Txt>
            <Txt x={13.3} y={385.5} size={10.5} rotate={-90}>{"\u2212"}log 10 adjusted p value</Txt>
            <Txt x={160.5} y={509.3} size={10.5}>LMM correlation coefficient</Txt>
            <Txt x={297} y={316} size={10} anchor="start">Proteobacteria Family</Txt>
            {proteoFamilies.map((f, i) => (
                <React.Fragment key={f}>
                    <Dot x={303.3} y={334.3 + i * 16.77} r={2} color={PROTEO_COLORS[f]} />
                    <Txt x={318.7} y={334.3 + i * 16.77} size={8.5} italic anchor="start" color="#1A1A1A">{f}</Txt>
                </React.Fragment>
            ))}
        </>
    )
}

function PanelC() {
    const pos: NotePos[] = [
        [3, -16.5, "middle", [0.5, -5, 2, -10.5]],
        [1, 18, "middle", [-3, 6, -5.5, 11.5]],
        [31, -15.5, "middle", [1.5, -10, -0.3, -5.5]],
        [6.5, 0, "start"],
        [-40.7, -9, "middle"],
    ]
    return (
        <>
            <Txt x={401.7} y={285.3} size={15} bold>C</Txt>
            <Plot
                left={446} top={285} w={243} h={206} xDomain={[-1.118, 1.1]} yDomain={[-9.1, 206.3]}
                xTicks={cXTicks} yTicks={bYTicks} xMinor={cXMinor} yMinor={cYMinor} yW={30} xFont={8} yFont={7}
                xFmt={minus} yFmt={(v) => String(v)} border="#7F7F7F" borderW={1}
            >
                <ReferenceLine x={0} stroke="#000" strokeDasharray="4 3" strokeWidth={1} />
                <ReferenceLine y={3} stroke="#000" strokeDasharray="4 3" strokeWidth={1} />
                {groupScatters(cPoints, PROTEO_COLORS, 2.2, "c")}
                {noteScatters(cNotes, pos, PROTEO_COLORS, 2.4, 10, "cn")}
            </Plot>
            <Txt x={419} y={388} size={10.5} rotate={-90}>{"\u2212"}log 10 adjusted p value</Txt>
            <Txt x={567.5} y={510.7} size={10.5}>LMM correlation coefficient</Txt>
        </>
    )
}

function PanelD() {
    const common = {
        top: 560.7, h: 179.3, xDomain: [-0.389, 0.536] as [number, number], yDomain: [-4.6, 98.1] as [number, number],
        xTicks: dXTicks, yTicks: dYTicks, xMinor: dXMinor, yMinor: dYMinor, yW: 25, xFont: 6.5, yFont: 6.5,
        xFmt: minus, yFmt: (v: number) => String(v), border: "#333", borderW: 1.3, stripH: 14, stripFont: 8.5,
    }
    const lines = [
        <ReferenceLine key="v" x={0} stroke="#000" strokeDasharray="4 2.5" strokeWidth={1.1} />,
        <ReferenceLine key="h" y={3} stroke="#777" strokeDasharray="4 3" strokeWidth={0.8} />,
    ]
    return (
        <>
            <Txt x={7.5} y={553.5} size={15} bold>D</Txt>
            <Plot {...common} left={26.7} w={220} strip={"Non\u2212Spore\u2212Former"}>
                {lines}
                {groupScatters(dNonSpore, FIRM_COLORS, 1.6, "dn")}
            </Plot>
            <Plot {...common} left={250.7} w={221} hideY strip={"Spore\u2212Former"}>
                {lines}
                {groupScatters(dSpore, FIRM_COLORS, 1.6, "ds")}
            </Plot>
            <Txt x={9.3} y={650.3} size={8.5} rotate={-90}>{"\u2212"}log 10 adjusted p value</Txt>
            <Txt x={249} y={756.7} size={8.5}>LMM correlation coefficient</Txt>
        </>
    )
}

function PanelE() {
    const common = {
        top: 786.7, h: 180, xDomain: [-0.325, 0.467] as [number, number], yDomain: [-5.4, 121.6] as [number, number],
        xTicks: dXTicks, yTicks: eYTicks, xMinor: eXMinor, yMinor: eYMinor, yW: 25, xFont: 6.5, yFont: 6.5,
        xFmt: minus, yFmt: (v: number) => String(v), border: "#555", borderW: 1, stripH: 12.5, stripFont: 6.5,
    }
    const lines = [
        <ReferenceLine key="v" x={0} stroke="#000" strokeDasharray="4 2.5" strokeWidth={1} />,
        <ReferenceLine key="h" y={3} stroke="#000" strokeDasharray="4 2.5" strokeWidth={1} />,
    ]
    const leftPos: NotePos[] = [
        [9, -9.5, "middle"],
        [2, 6.5, "middle"],
        [-5, -2, "end"],
        [13.6, -28.4, "middle", [0.6, -5, 15.6, -23.4]],
        [-4, -2, "end"],
        [-43, 5, "middle"],
        [-9.3, -5.7, "middle"],
        [-40.7, 4, "middle"],
    ]
    const rightPos: NotePos[] = [
        [9, -8, "middle"],
        [37, -6, "middle"],
        [3.7, -4, "start"],
        [31.5, 5, "middle"],
        [-21, -6, "middle"],
        [-5, 0, "end"],
        [-3, 0, "end"],
        [-2, 0, "end"],
    ]
    return (
        <>
            <Txt x={8} y={779} size={15} bold>E</Txt>
            <Plot {...common} left={30.7} w={217.6} strip={"Non\u2212Spore\u2212Former"}>
                {lines}
                {groupScatters(eNonSpore, FIRM_COLORS, 1.5, "en")}
                {noteScatters(eNonSporeNotes, leftPos, FIRM_COLORS, 1.6, 8, "enn")}
            </Plot>
            <Plot {...common} left={253.3} w={217.7} hideY strip={"Spore\u2212Former"}>
                {lines}
                {groupScatters(eSpore, FIRM_COLORS, 1.5, "es")}
                {noteScatters(eSporeNotes, rightPos, FIRM_COLORS, 1.6, 8, "esn")}
            </Plot>
            <Txt x={9} y={877} size={8.5} rotate={-90}>{"\u2212"}log 10 adjusted p value</Txt>
            <Txt x={251} y={982.7} size={8.5}>LMM correlation coefficient</Txt>
        </>
    )
}

function FirmicutesLegend() {
    const rowY = (i: number) => 724 + i * 13.4
    return (
        <>
            <Txt x={494} y={697.7} size={9.5} anchor="start">Firmicutes Family</Txt>
            <Txt x={499.3} y={713.3} size={7.5} anchor="start" underline color="#1A1A1A">Non-spore-formers</Txt>
            <Txt x={587.7} y={713.3} size={7.5} anchor="start" underline color="#1A1A1A">Spore-formers</Txt>
            {nonSporeFamilies.map((f, i) => (
                <React.Fragment key={f}>
                    <Dot x={500.7} y={rowY(i)} r={1.3} color={FIRM_COLORS[f]} />
                    <Txt x={512} y={rowY(i)} size={7} italic anchor="start" color="#1A1A1A">{f}</Txt>
                </React.Fragment>
            ))}
            {sporeFamilies.map((f, i) => (
                <React.Fragment key={f}>
                    <Dot x={588.3} y={rowY(i)} r={1.3} color={FIRM_COLORS[f]} />
                    <Txt x={600} y={rowY(i)} size={7} italic anchor="start" color="#1A1A1A">{f}</Txt>
                </React.Fragment>
            ))}
        </>
    )
}

export default function App() {
    return (
        <div
            style={{
                position: "absolute", left: 0, top: 0, width: 691, height: 990, background: "#fff",
                fontFamily: FONT, overflow: "hidden", color: "#000",
            }}
        >
            <PanelA />
            <PanelB />
            <PanelC />
            <PanelD />
            <PanelE />
            <FirmicutesLegend />
        </div>
    )
}
